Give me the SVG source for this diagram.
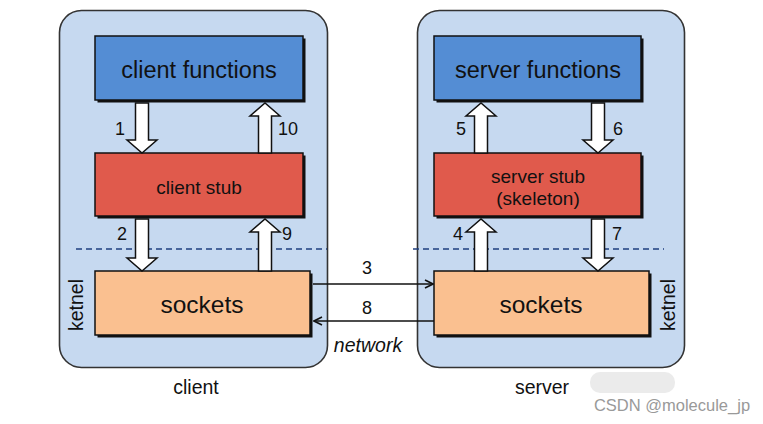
<svg xmlns="http://www.w3.org/2000/svg" width="763" height="424" viewBox="0 0 763 424">
<style>
text{font-family:"Liberation Sans",Arial,sans-serif;fill:#111;text-anchor:middle;dominant-baseline:central}
.host{fill:#c6d9f0;stroke:#333;stroke-width:1.6}
.sh{fill:#111}
.fn{fill:#548dd4;stroke:#111;stroke-width:1.5}
.stub{fill:#e05a4c;stroke:#111;stroke-width:1.5}
.sock{fill:#fac090;stroke:#111;stroke-width:1.5}
.big{font-size:23.5px}
.sk{font-size:24.5px}
.mid{font-size:19px}
.num{font-size:18px}
.lbl{font-size:19.5px}
.fat{fill:#fff;stroke:#111;stroke-width:1.5;stroke-linejoin:miter}
.dash{stroke:#1f3f7f;stroke-width:1.6;stroke-dasharray:6 4;fill:none}
.net{stroke:#111;stroke-width:1.5;fill:none}
</style>
<defs>
<marker id="ah" viewBox="0 0 10 10" refX="9" refY="5" markerWidth="10" markerHeight="10" markerUnits="userSpaceOnUse" orient="auto">
<path d="M1,1 L9,5 L1,9" fill="none" stroke="#111" stroke-width="1.6"/>
</marker>
</defs>
<g id="client-host">
<rect class="host" x="59.5" y="10.5" width="268" height="357" rx="22"/>
<text class="lbl" x="196" y="387">client</text>
<text class="lbl" transform="translate(76,305) rotate(-90)">ketnel</text>
</g>
<g id="server-host">
<rect class="host" x="417.5" y="10.5" width="267" height="357" rx="22"/>
<text class="lbl" x="542" y="387">server</text>
<text class="lbl" transform="translate(668,305) rotate(-90)">ketnel</text>
</g>
<line class="dash" x1="76" y1="249" x2="327" y2="249"/>
<line class="dash" x1="413" y1="249" x2="664" y2="249"/>
<g id="client-functions">
<rect class="sh" x="97.5" y="38.5" width="208" height="64"/>
<rect class="fn" x="95" y="36" width="208" height="64"/>
<text class="big" x="199" y="70">client functions</text>
</g>
<g id="client-stub">
<rect class="sh" x="97.5" y="155.5" width="208" height="63"/>
<rect class="stub" x="95" y="153" width="208" height="63"/>
<text class="mid" x="199" y="187">client stub</text>
</g>
<g id="client-sockets">
<rect class="sh" x="97.5" y="273.5" width="215" height="64"/>
<rect class="sock" x="95" y="271" width="215" height="64"/>
<text class="sk" x="202" y="304">sockets</text>
</g>
<g id="server-functions">
<rect class="sh" x="436.5" y="38.5" width="207" height="64"/>
<rect class="fn" x="434" y="36" width="207" height="64"/>
<text class="big" x="538" y="70">server functions</text>
</g>
<g id="server-stub">
<rect class="sh" x="436.5" y="155.5" width="207" height="63"/>
<rect class="stub" x="434" y="153" width="207" height="63"/>
<text class="mid" x="538" y="176">server stub</text>
<text class="mid" x="538" y="198">(skeleton)</text>
</g>
<g id="server-sockets">
<rect class="sh" x="436.5" y="273.5" width="215" height="64"/>
<rect class="sock" x="434" y="271" width="215" height="64"/>
<text class="sk" x="541" y="304">sockets</text>
</g>
<g id="connectors">
<polygon class="fat" points="135.5,103 148.5,103 148.5,140 157,140 142,153 127,140 135.5,140"/>
<polygon class="fat" points="258.5,153 271.5,153 271.5,116 280,116 265,103 250,116 258.5,116"/>
<polygon class="fat" points="135.5,219 148.5,219 148.5,258 157,258 142,271 127,258 135.5,258"/>
<polygon class="fat" points="258.5,271 271.5,271 271.5,232 280,232 265,219 250,232 258.5,232"/>
<polygon class="fat" points="474.5,153 487.5,153 487.5,116 496,116 481,103 466,116 474.5,116"/>
<polygon class="fat" points="591.5,103 604.5,103 604.5,140 613,140 598,153 583,140 591.5,140"/>
<polygon class="fat" points="474.5,271 487.5,271 487.5,232 496,232 481,219 466,232 474.5,232"/>
<polygon class="fat" points="591.5,219 604.5,219 604.5,258 613,258 598,271 583,258 591.5,258"/>
<line class="net" x1="313" y1="284" x2="433" y2="284" marker-end="url(#ah)"/>
<line class="net" x1="434" y1="321" x2="314" y2="321" marker-end="url(#ah)"/>
<text class="num" x="120" y="129">1</text>
<text class="num" x="288" y="129">10</text>
<text class="num" x="122" y="234">2</text>
<text class="num" x="287" y="234">9</text>
<text class="num" x="461" y="129">5</text>
<text class="num" x="618" y="129">6</text>
<text class="num" x="458" y="234">4</text>
<text class="num" x="617" y="234">7</text>
<text class="num" x="367" y="268">3</text>
<text class="num" x="367" y="308">8</text>
<text class="lbl" x="368" y="345" font-style="italic">network</text>
</g>
<rect x="590" y="372" width="85" height="21" rx="10" fill="#e6e6e6" opacity="0.8"/>
<text x="672" y="405" style="font-size:16.5px;fill:#999">CSDN @molecule_jp</text>
</svg>
